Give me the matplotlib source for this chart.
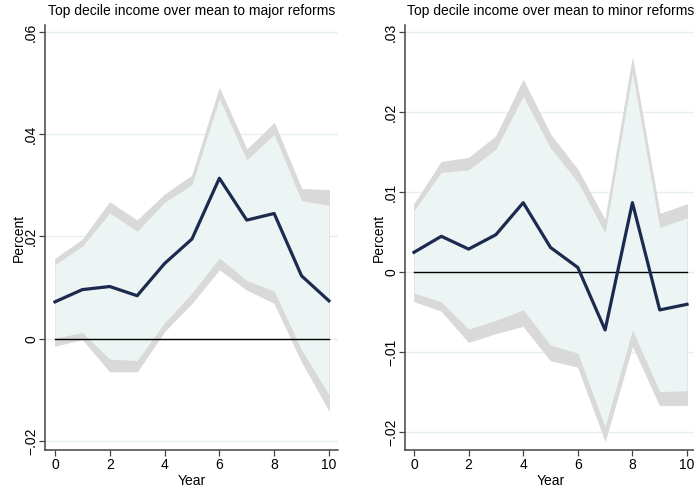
import matplotlib.pyplot as plt
from matplotlib.ticker import FuncFormatter

plt.rcParams['font.family'] = ['Liberation Sans', 'DejaVu Sans']

years = list(range(11))

# major reforms
major_mid = [0.0072, 0.0096, 0.0102, 0.0084, 0.0147, 0.0195, 0.0314, 0.0232, 0.0245, 0.0123, 0.0074]
major_hi_out = [0.0156, 0.0194, 0.0267, 0.0231, 0.0282, 0.0319, 0.0490, 0.0370, 0.0422, 0.0293, 0.0291]
major_hi_in = [0.0145, 0.0181, 0.0246, 0.0210, 0.0267, 0.0301, 0.0470, 0.0350, 0.0400, 0.0270, 0.0261]
major_lo_in = [0.0001, 0.0012, -0.0040, -0.0043, 0.0031, 0.0089, 0.0158, 0.0114, 0.0093, -0.0022, -0.0110]
major_lo_out = [-0.0014, -0.0001, -0.0064, -0.0064, 0.0015, 0.0070, 0.0136, 0.0096, 0.0070, -0.0044, -0.0140]

# minor reforms
minor_mid = [0.0025, 0.0045, 0.0029, 0.0047, 0.0087, 0.0031, 0.0006, -0.0072, 0.0087, -0.0047, -0.0040]
minor_hi_out = [0.0085, 0.0138, 0.0143, 0.0170, 0.0240, 0.0172, 0.0128, 0.0065, 0.0267, 0.0073, 0.0085]
minor_hi_in = [0.0077, 0.0125, 0.0128, 0.0154, 0.0220, 0.0155, 0.0113, 0.0049, 0.0250, 0.0056, 0.0068]
minor_lo_in = [-0.0026, -0.0037, -0.0071, -0.0060, -0.0047, -0.0091, -0.0101, -0.0193, -0.0072, -0.0149, -0.0148]
minor_lo_out = [-0.0036, -0.0048, -0.0087, -0.0076, -0.0067, -0.0110, -0.0118, -0.0210, -0.0091, -0.0166, -0.0166]

major_ticks = [-0.02, 0, 0.02, 0.04, 0.06]
minor_ticks = [-0.02, -0.01, 0, 0.01, 0.02, 0.03]


def fmt(v, pos):
    if abs(v) < 1e-12:
        return '0'
    s = ('%.2f' % abs(v)).lstrip('0')
    return ('\u2212' + s) if v < 0 else s


def panel(ax, title, mid, hi_out, hi_in, lo_in, lo_out, ticks, ylim, xlim):
    ax.fill_between(years, lo_out, hi_out, color='#d9d9d9', lw=0.6, ec='#d9d9d9', zorder=1)
    ax.fill_between(years, lo_in, hi_in, color='#ecf4f4', lw=0, zorder=2)
    ax.plot([0, 10], [0, 0], color='black', lw=1.0, zorder=3)
    ax.plot(years, mid, color='#1b2a4e', lw=2.3, zorder=4)
    ax.set_xlim(*xlim)
    ax.set_ylim(*ylim)
    ax.set_xticks([0, 2, 4, 6, 8, 10])
    ax.set_yticks(ticks)
    ax.yaxis.set_major_formatter(FuncFormatter(fmt))
    ax.grid(axis='y', color='#e6f0f3', lw=1.0)
    ax.set_axisbelow(True)
    for s in ['top', 'right']:
        ax.spines[s].set_visible(False)
    for s in ['left', 'bottom']:
        ax.spines[s].set_color('#444444')
        ax.spines[s].set_linewidth(1.1)
    ax.tick_params(axis='y', labelrotation=90, labelsize=10, length=4, width=0.9,
                   color='#444444', pad=1)
    ax.tick_params(axis='x', labelsize=10, length=4, width=0.9, color='#444444', pad=2)
    for lab in ax.get_yticklabels():
        lab.set_va('center')
    ax.set_xlabel('Year', fontsize=10, labelpad=1)
    ax.set_ylabel('Percent', fontsize=10, labelpad=-1)
    ax.set_title(title, fontsize=10, pad=7)


fig = plt.figure(figsize=(6.94, 4.87), dpi=100)
ax1 = fig.add_axes([0.0648, 0.076, 0.4222, 0.8727])
ax2 = fig.add_axes([0.5836, 0.076, 0.4193, 0.8727])

panel(ax1, 'Top decile income over mean to major reforms', major_mid, major_hi_out,
      major_hi_in, major_lo_in, major_lo_out, major_ticks, (-0.0218, 0.0614), (-0.365, 10.33))
panel(ax2, 'Top decile income over mean to minor reforms', minor_mid, minor_hi_out,
      minor_hi_in, minor_lo_in, minor_lo_out, minor_ticks, (-0.0222, 0.0309), (-0.33, 10.33))

fig.savefig('out.png', dpi=100)
